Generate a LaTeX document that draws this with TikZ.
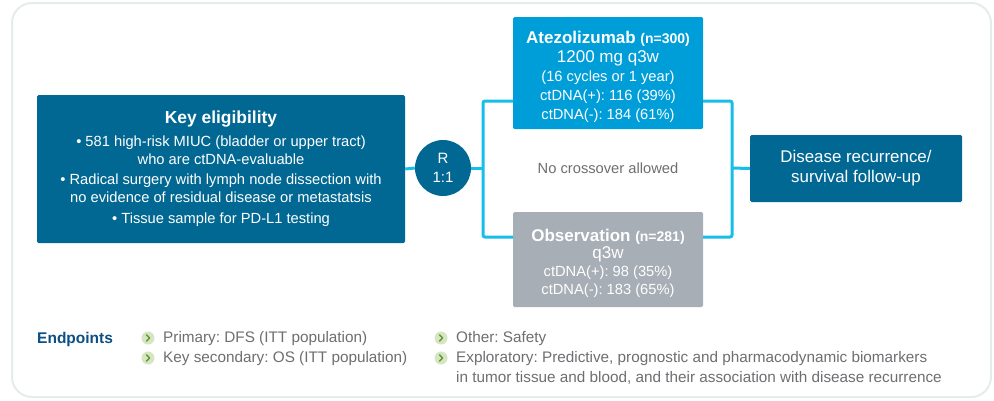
\documentclass[tikz,border=0pt]{standalone}
\usepackage{fontspec}
\setmainfont{Liberation Sans}
\frenchspacing
\definecolor{deepteal}{HTML}{006893}
\definecolor{brightblue}{HTML}{009ED9}
\definecolor{armgray}{HTML}{A8AEB6}
\definecolor{linkcyan}{HTML}{19BDEA}
\definecolor{bodygray}{HTML}{6D6E71}
\definecolor{headblue}{HTML}{0B4F85}
\definecolor{framegray}{HTML}{E6EBEE}
\definecolor{tickfill}{HTML}{D6E6C2}
\definecolor{tickgreen}{HTML}{5E9B35}
\newcommand{\fsz}[2]{\fontsize{#1}{#2}\selectfont}
\tikzset{
  panel/.style={inner sep=0pt, align=center, text=white, rounded corners=1.5pt},
  paneltext/.style={inner sep=0pt, align=center, text=white},
  link/.style={draw=linkcyan, line width=3pt, rounded corners=2pt},
  bodytext/.style={inner sep=0pt, text=bodygray, font=\fsz{15.3}{20}},
}
\newcommand{\epmark}[2]{%
  \fill[tickfill] (#1,#2) circle (6.5);
  \draw[tickgreen, line width=1.4pt, line cap=round, line join=round]
    (#1-1.6,#2-3.2) -- (#1+1.6,#2) -- (#1-1.6,#2+3.2);}
\begin{document}
\begin{tikzpicture}[x=1pt,y=-1pt]
\useasboundingbox (0,0) rectangle (994,400);
% outer frame
\draw[framegray, line width=2pt, rounded corners=20pt] (12,3) rectangle (991,397);

% eligibility box
\node[panel, fill=deepteal, minimum width=368pt, minimum height=148pt, font=\fsz{14.7}{18}] (elig) at (221,169)
  {\fsz{17.4}{18}\bfseries Key eligibility\\[5pt]
   \textbullet\ 581 high-risk MIUC (bladder or upper tract)\\
   who are ctDNA-evaluable\\[2pt]
   \textbullet\ Radical surgery with lymph node dissection with\\
   no evidence of residual disease or metastatsis\\[3pt]
   \textbullet\ Tissue sample for PD-L1 testing};

% randomisation
\node[circle, fill=deepteal, minimum size=56pt, inner sep=0pt, text=white, align=center,
      font=\fsz{15}{19}] (rand) at (443,168) {R\\1:1};

% treatment arms
\node[panel, fill=brightblue, minimum width=190pt, minimum height=112pt] (atezo) at (608,73) {};
\node[paneltext, font=\fsz{14.7}{18.7}] (atezotxt) at (608,76.5)
  {\bfseries\fsz{17}{18.7}Atezolizumab \fsz{14}{18.7}(n=300)\\[1pt]
   \fsz{17}{18.7}1200 mg q3w\\
   (16 cycles or 1 year)\\ctDNA(+): 116 (39\%)\\ctDNA(-): 184 (61\%)};
\node[panel, fill=armgray, minimum width=190pt, minimum height=95pt] (obs) at (608,259.5) {};
\node[paneltext, font=\fsz{14.7}{17.7}] (obstxt) at (608,263)
  {\bfseries\fsz{17}{17.7}Observation \fsz{14}{17.7}(n=281)\\
   \fsz{17}{17.7}q3w\\
   ctDNA(+): 98 (35\%)\\ctDNA(-): 183 (65\%)};

\node[bodytext, font=\fsz{14.7}{18}] (nocross) at (608,168) {No crossover allowed};

% follow-up
\node[panel, fill=deepteal, minimum width=212pt, minimum height=67pt, font=\fsz{16.9}{20}] (follow) at (856,168.5)
  {Disease recurrence/\\survival follow-up};

% connectors
\coordinate (jl) at (483,168);
\coordinate (jr) at (732,168);
\coordinate (aIn) at (513,101);
\coordinate (oIn) at (513,237);
\coordinate (aOut) at (703,101);
\coordinate (oOut) at (703,237);
\draw[link] (elig.east) -- (rand.west);
\draw[link] (rand.east) -- (jl);
\draw[link] (aIn) -| (jl) |- (oIn);
\draw[link] (aOut) -| (jr) |- (oOut);
\draw[link] (jr) -- (follow.west);

% endpoints
\node[inner sep=0pt, anchor=west, text=headblue, font=\fsz{15.5}{18}\bfseries] (ephead) at (37,339) {Endpoints};
\epmark{148}{338}
\epmark{148}{358}
\epmark{441}{338}
\epmark{441}{358}
\node[bodytext, anchor=west] (ep1) at (163,339) {Primary: DFS (ITT population)};
\node[bodytext, anchor=west] (ep2) at (163,359) {Key secondary: OS (ITT population)};
\node[bodytext, anchor=west] (ep3) at (456,339) {Other: Safety};
\node[bodytext, anchor=north west, align=left] (ep4) at (456,351)
  {Exploratory: Predictive, prognostic and pharmacodynamic biomarkers\\
   in tumor tissue and blood, and their association with disease recurrence};
\end{tikzpicture}
\end{document}
